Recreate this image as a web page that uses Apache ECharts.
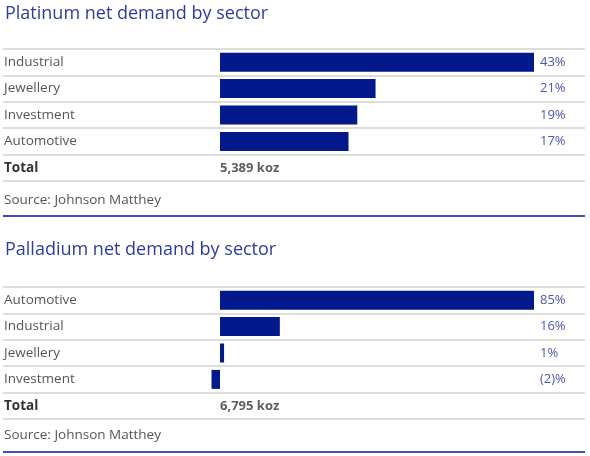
<!DOCTYPE html>
<html>
<head>
<meta charset="utf-8">
<script src="https://cdn.jsdelivr.net/npm/echarts@6/dist/echarts.min.js"></script>
<style>
html,body{margin:0;padding:0;background:#fff;}
#chart{width:590px;height:456px;}
</style>
</head>
<body>
<div id="chart"></div>
<script>
// ---- data ----
const platTitle = 'Platinum net demand by sector';
const platCategories = ['Industrial', 'Jewellery', 'Investment', 'Automotive'];
const platValues = [43, 21.3, 18.8, 17.6];   // bar lengths
const platLabels = ['43%', '21%', '19%', '17%'];
const platTotal = '5,389 koz';

const pallTitle = 'Palladium net demand by sector';
const pallCategories = ['Automotive', 'Industrial', 'Jewellery', 'Investment'];
const pallValues = [85, 16.2, 1.1, -2.3];     // bar lengths
const pallLabels = ['85%', '16%', '1%', '(2)%'];
const pallTotal = '6,795 koz';

const sourceText = 'Source: Johnson Matthey';
const totalLabel = 'Total';

// ---- styles ----
const FONT = 'Open Sans';
const BAR = '#03188a';
const TITLE_C = '#2d3c9f';
const VAL_C = '#4c58ad';
const TXT_C = '#555555';
const LINE_C = '#d0d0d0';
const BLUE_LINE = '#3d4fc0';

const chart = echarts.init(document.getElementById('chart'), null, {renderer: 'canvas'});

function panel(idx, top, cats, vals, labels, total, maxV) {
  const rows = cats.concat([totalLabel]);
  const gA = idx * 2, gB = idx * 2 + 1;
  return {
    grids: [
      {left: 3, right: 5, top: top, height: 132},
      {left: 220, width: 314, top: top, height: 132}
    ],
    xAxes: [
      {gridIndex: gA, type: 'value', show: false, min: 0, max: 1},
      {gridIndex: gB, type: 'value', show: false, min: 0, max: maxV}
    ],
    yAxes: [
      {gridIndex: gA, type: 'category', inverse: true, data: rows,
       axisLine: {show: false}, axisTick: {show: false},
       splitLine: {show: true, interval: 0, lineStyle: {color: LINE_C, width: 1.6}},
       axisLabel: {inside: true, margin: 1, interval: 0, color: TXT_C, fontFamily: FONT, fontSize: 13.5,
         formatter: v => v === totalLabel ? '{b|' + v + '}' : v,
         rich: {b: {fontWeight: 'bold', color: '#333', fontFamily: FONT, fontSize: 13.5}}}},
      {gridIndex: gB, type: 'category', inverse: true, data: rows, position: 'right',
       axisLine: {show: false}, axisTick: {show: false}, splitLine: {show: false},
       axisLabel: {margin: 6, interval: 0, color: VAL_C, fontFamily: FONT, fontSize: 13,
         formatter: (v, i) => labels[i] || ''}}
    ],
    series: [
      {type: 'bar', xAxisIndex: gB, yAxisIndex: gB, data: vals, barWidth: 19, clip: false,
       itemStyle: {color: BAR}, silent: true, animation: false},
      {type: 'scatter', xAxisIndex: gB, yAxisIndex: gB, symbolSize: 0, data: [[0, rows.length - 1]],
       animation: false, silent: true,
       label: {show: true, position: 'right', distance: 0, formatter: total,
         fontFamily: FONT, fontSize: 13, fontWeight: 'bold', color: '#333'}}
    ]
  };
}

const p1 = panel(0, 49, platCategories, platValues, platLabels, platTotal, platValues[0]);
const p2 = panel(1, 287, pallCategories, pallValues, pallLabels, pallTotal, pallValues[0]);

chart.setOption({
  animation: false,
  title: [
    {text: platTitle, left: 0, top: 0, textStyle: {fontFamily: FONT, fontSize: 18, fontWeight: 'normal', color: TITLE_C}},
    {text: sourceText, left: -1, top: 188, textStyle: {fontFamily: FONT, fontSize: 13.5, fontWeight: 'normal', color: TXT_C}},
    {text: pallTitle, left: 0, top: 236, textStyle: {fontFamily: FONT, fontSize: 18, fontWeight: 'normal', color: TITLE_C}},
    {text: sourceText, left: -1, top: 423, textStyle: {fontFamily: FONT, fontSize: 13.5, fontWeight: 'normal', color: TXT_C}}
  ],
  grid: p1.grids.concat(p2.grids),
  xAxis: p1.xAxes.concat(p2.xAxes),
  yAxis: p1.yAxes.concat(p2.yAxes),
  series: p1.series.concat(p2.series),
  graphic: [
    {type: 'line', shape: {x1: 3, y1: 216, x2: 585, y2: 216}, style: {stroke: BLUE_LINE, lineWidth: 2}},
    {type: 'line', shape: {x1: 3, y1: 452, x2: 585, y2: 452}, style: {stroke: BLUE_LINE, lineWidth: 2}}
  ]
});
</script>
</body>
</html>
